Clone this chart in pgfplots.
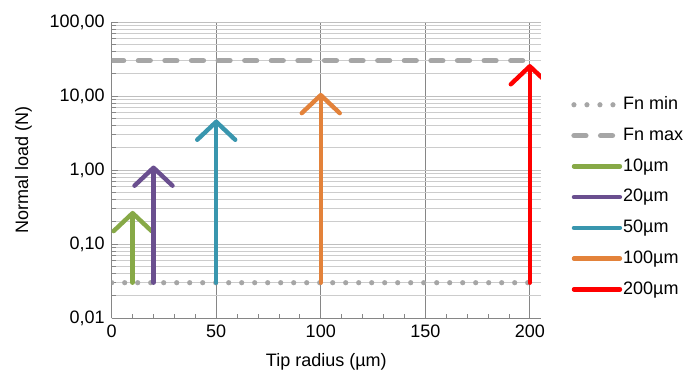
\documentclass[border=0pt]{standalone}
\usepackage{fontspec}
\setmainfont{Liberation Sans}
\usepackage{pgfplots}
\pgfplotsset{compat=1.18}
\usetikzlibrary{arrows.meta}
\definecolor{cgreen}{HTML}{87A947}
\definecolor{cpurple}{HTML}{6A4F8F}
\definecolor{cteal}{HTML}{3996AE}
\definecolor{corange}{HTML}{E3823A}
\definecolor{cgray}{HTML}{A6A6A6}
\definecolor{axgray}{HTML}{868686}
\begin{document}
\begin{tikzpicture}[font=\fontsize{9bp}{11bp}\selectfont]
\useasboundingbox (-55.85bp,-30bp) rectangle (285.65bp,159bp);
\begin{axis}[
  scale only axis,
  width=214.6bp, height=148bp,
  xmin=0, xmax=205.3,
  ymode=log, ymin=0.01, ymax=100,
  xtick={0,50,100,150,200},
  minor xtick={10,20,30,40,60,70,80,90,110,120,130,140,160,170,180,190},
  ytick={0.01,0.1,1,10,100},
  minor ytick={0.02,0.03,0.04,0.05,0.06,0.07,0.08,0.09,
               0.2,0.3,0.4,0.5,0.6,0.7,0.8,0.9,
               2,3,4,5,6,7,8,9,
               20,30,40,50,60,70,80,90},
  yticklabels={{0,01},{0,10},{1,00},{10,00},{100,00}},
  axis x line*=bottom, axis y line*=left,
  axis line style={draw=axgray, -},
  tick style={draw=axgray, thin},
  tick align=inside,
  major tick length=3bp,
  minor tick length=2bp,
  xmajorgrids, ymajorgrids, yminorgrids,
  x grid style={draw=axgray, thin},
  major y grid style={draw=black!25, thin},
  minor y grid style={draw=black!20, thin},
  /pgf/number format/assume math mode=true,
  ticklabel style={font=\fontsize{9bp}{11bp}\selectfont},
  xlabel={Tip radius (µm)},
  ylabel={Normal load (N)},
  xlabel style={font=\fontsize{9bp}{11bp}\selectfont, yshift=-1bp},
  ylabel style={font=\fontsize{9bp}{11bp}\selectfont, yshift=2bp},
  clip=true,
  legend style={draw=none, fill=none, inner sep=0pt, at={(1.07,0.409)}, anchor=west,
    legend cell align=left, row sep=4.6bp,
    nodes={font=\fontsize{9bp}{11bp}\selectfont, inner sep=1.5bp},
    /tikz/every even column/.style={column sep=0pt}},
  legend image code/.code={\draw[#1,-] (0bp,0bp) -- (23bp,0bp);},
]
\addplot[cgray, line width=2.6bp, line cap=round, dash pattern=on 0bp off 6.5bp]
  coordinates {(0,0.03) (200,0.03)};
\addlegendentry[inner xsep=0.3bp]{Fn min}
\addplot[cgray, line width=2.6bp, line cap=round, dash pattern=on 6bp off 7.3bp]
  coordinates {(0,30) (200,30)};
\addlegendentry[inner xsep=0.3bp]{Fn max}
\addplot[cgreen, line width=2.2bp, line cap=round, -{Straight Barb[length=9bp,width=19bp,round]}]
  coordinates {(10,0.03) (10,0.28)};
\addlegendentry[inner xsep=0.3bp]{10µm}
\addplot[cpurple, line width=2.2bp, line cap=round, -{Straight Barb[length=9bp,width=19bp,round]}]
  coordinates {(20,0.03) (20,1.15)};
\addlegendentry[inner xsep=0.3bp]{20µm}
\addplot[cteal, line width=2.2bp, line cap=round, -{Straight Barb[length=9bp,width=19bp,round]}]
  coordinates {(50,0.03) (50,4.8)};
\addlegendentry[inner xsep=0.3bp]{50µm}
\addplot[corange, line width=2.2bp, line cap=round, -{Straight Barb[length=9bp,width=19bp,round]}]
  coordinates {(100,0.03) (100,11)};
\addlegendentry[inner xsep=0.3bp]{100µm}
\addplot[red, line width=2.2bp, line cap=round, -{Straight Barb[length=9bp,width=19bp,round]}]
  coordinates {(200,0.03) (200,27)};
\addlegendentry[inner xsep=0.3bp]{200µm}
\end{axis}
\end{tikzpicture}
\end{document}
